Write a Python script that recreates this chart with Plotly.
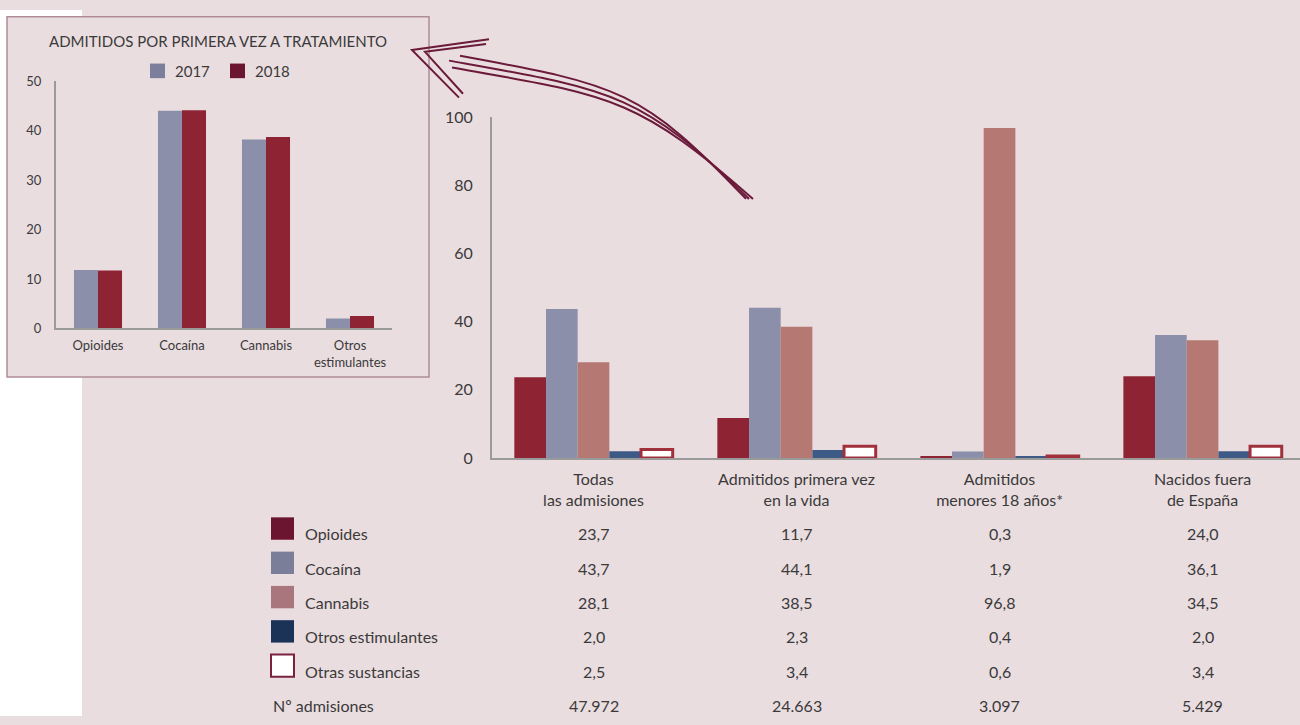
import plotly.graph_objects as go

W, H = 1300, 725

# main chart data (%)
grupos = ["Todas<br>las admisiones", "Admitidos primera vez<br>en la vida",
          "Admitidos<br>menores 18 años*", "Nacidos fuera<br>de España"]
sustancias = ["Opioides", "Cocaína", "Cannabis", "Otros estimulantes", "Otras sustancias"]
opioides = [23.7, 11.7, 0.3, 24.0]
cocaina = [43.7, 44.1, 1.9, 36.1]
cannabis = [28.1, 38.5, 96.8, 34.5]
otros_estim = [2.0, 2.3, 0.4, 2.0]
otras_sust = [2.5, 3.4, 0.6, 3.4]
n_admisiones = [47972, 24663, 3097, 5429]

# inset data
inset_cats = ["Opioides", "Cocaína", "Cannabis", "Otros<br>estimulantes"]
primera_2017 = [11.8, 44.0, 38.2, 2.0]
primera_2018 = [11.7, 44.1, 38.7, 2.5]

FONT = "Lato"
TXT = "#3a3a3a"
BG = "#eadde0"
AXIS = "#9a9a9a"

bar_colors = ["#8e2433", "#8c8fa9", "#b57873", "#3d5a87", "#ffffff"]
sq_colors = ["#6b1530", "#7a7e99", "#a8767c", "#1c3358", "#ffffff"]


def X(px):
    return px / W


def Y(py):
    return 1 - py / H


series = [opioides, cocaina, cannabis, otros_estim, otras_sust]

fig = go.Figure()
for name, vals, col in zip(sustancias, series, bar_colors):
    line = dict(width=0)
    if name == "Otras sustancias":
        line = dict(width=3, color="#a0303c")
    fig.add_trace(go.Bar(x=grupos, y=vals, name=name, marker_color=col,
                         marker_line=line, xaxis="x", yaxis="y"))

fig.add_trace(go.Bar(x=inset_cats, y=primera_2017, name="2017", marker_color="#8c8fa9",
                     marker_line_width=0, width=0.286, offset=-0.286, xaxis="x2", yaxis="y2"))
fig.add_trace(go.Bar(x=inset_cats, y=primera_2018, name="2018", marker_color="#8e2433",
                     marker_line_width=0, width=0.286, offset=0, xaxis="x2", yaxis="y2"))

shapes = [
    dict(type="rect", xref="paper", yref="paper", x0=0, x1=X(82), y0=0, y1=1,
         fillcolor="white", line_width=0, layer="below"),
    dict(type="rect", xref="paper", yref="paper", x0=X(7), x1=X(429), y0=Y(377), y1=Y(7),
         fillcolor=BG, line=dict(color="#b08c98", width=1.5), layer="below"),
]

# curved arrow pointing at the inset
ARROW = "#6b1a3a"


def path(pts, curve=False):
    if curve:
        (a, b, c, d) = pts
        return (f"M {X(a[0])},{Y(a[1])} C {X(b[0])},{Y(b[1])} "
                f"{X(c[0])},{Y(c[1])} {X(d[0])},{Y(d[1])}")
    return "M " + " L ".join(f"{X(p[0])},{Y(p[1])}" for p in pts)


strands = [
    [(460, 47), (620, 77), (642, 82), (746, 194)],
    [(449, 52), (612, 82), (640, 84), (749, 194)],
    [(452, 59), (610, 88), (636, 88), (753, 194)],
]
for s in strands:
    shapes.append(dict(type="path", xref="paper", yref="paper", path=path(s, True),
                       line=dict(color=ARROW, width=2)))
for s in [[(489, 30), (412, 41), (459, 90)], [(486, 35), (425, 43), (463, 86)]]:
    shapes.append(dict(type="path", xref="paper", yref="paper", path=path(s),
                       line=dict(color=ARROW, width=2)))

annotations = []

# table under the chart
row0, step = 538, 35.2
for i, (name, vals, col) in enumerate(zip(sustancias, series, sq_colors)):
    yc = row0 + step * i
    line_col = "#7a2040" if name == "Otras sustancias" else "rgba(0,0,0,0)"
    shapes.append(dict(type="rect", xref="paper", yref="paper", x0=X(271), x1=X(294),
                       y0=Y(yc + 6), y1=Y(yc - 17), fillcolor=col,
                       line=dict(color=line_col, width=2)))
    annotations.append(dict(x=X(303), y=Y(yc), xref="paper", yref="paper", text=name,
                            showarrow=False, xanchor="left", yanchor="middle",
                            font=dict(size=16, color=TXT)))
    for g, v in zip(grupos, vals):
        annotations.append(dict(x=g, y=Y(yc), xref="x", yref="paper",
                                text=f"{v:.1f}".replace(".", ","), showarrow=False,
                                xanchor="center", yanchor="middle",
                                font=dict(size=16, color=TXT)))
yn = 714
annotations.append(dict(x=X(271), y=Y(yn), xref="paper", yref="paper", text="Nº admisiones",
                        showarrow=False, xanchor="left", yanchor="middle",
                        font=dict(size=16, color=TXT)))
for g, n in zip(grupos, n_admisiones):
    annotations.append(dict(x=g, y=Y(yn), xref="x", yref="paper",
                            text=f"{n:,}".replace(",", "."), showarrow=False,
                            xanchor="center", yanchor="middle",
                            font=dict(size=16, color=TXT)))

# inset title and legend
annotations.append(dict(x=X(218), y=Y(32), xref="paper", yref="paper",
                        text="ADMITIDOS POR PRIMERA VEZ A TRATAMIENTO", showarrow=False,
                        xanchor="center", yanchor="middle", font=dict(size=15, color=TXT)))
for x0, col, lab in [(150, "#7b7f9c", "2017"), (230, "#6b1530", "2018")]:
    shapes.append(dict(type="rect", xref="paper", yref="paper", x0=X(x0), x1=X(x0 + 15),
                       y0=Y(70), y1=Y(55), fillcolor=col, line_width=0))
    annotations.append(dict(x=X(x0 + 23), y=Y(63), xref="paper", yref="paper", text=lab,
                            showarrow=False, xanchor="left", yanchor="middle",
                            font=dict(size=15, color=TXT)))

fig.update_layout(
    margin=dict(l=0, r=0, t=0, b=0),
    paper_bgcolor=BG, plot_bgcolor="rgba(0,0,0,0)",
    font=dict(family=FONT, color=TXT),
    showlegend=False,
    barmode="group", bargap=0.22, bargroupgap=0,
    shapes=shapes, annotations=annotations,
    xaxis=dict(domain=[X(492), 1], range=[-0.5, 3.48], showline=True, linecolor=AXIS,
               linewidth=2, ticks="", showgrid=False, zeroline=False,
               tickfont=dict(size=16, color=TXT), ticklabelstandoff=6),
    yaxis=dict(domain=[Y(460), Y(110)], range=[0, 100], dtick=20, showline=True,
               linecolor=AXIS, linewidth=2, ticks="", showgrid=False, zeroline=False,
               tickfont=dict(size=16, color=TXT), ticklabelstandoff=14),
    xaxis2=dict(domain=[X(56), X(392)], range=[-0.5, 3.5], anchor="y2", showline=True,
                linecolor=AXIS, linewidth=2, ticks="", showgrid=False, zeroline=False,
                tickfont=dict(size=13, color=TXT), ticklabelstandoff=4),
    yaxis2=dict(domain=[Y(327), Y(73)], range=[0, 50], dtick=10, anchor="x2",
                showline=True, linecolor=AXIS, linewidth=2, ticks="", showgrid=False,
                zeroline=False, tickfont=dict(size=13, color=TXT), ticklabelstandoff=10),
)

fig.write_html("out.html", config={"displayModeBar": False},
               default_width="100vw", default_height="100vh",
               post_script="document.body.style.margin='0px';"
                           "document.body.style.overflow='hidden';"
                           "document.documentElement.style.overflow='hidden';"
                           "Plotly.Plots.resize(document.getElementById('{plot_id}'));")
